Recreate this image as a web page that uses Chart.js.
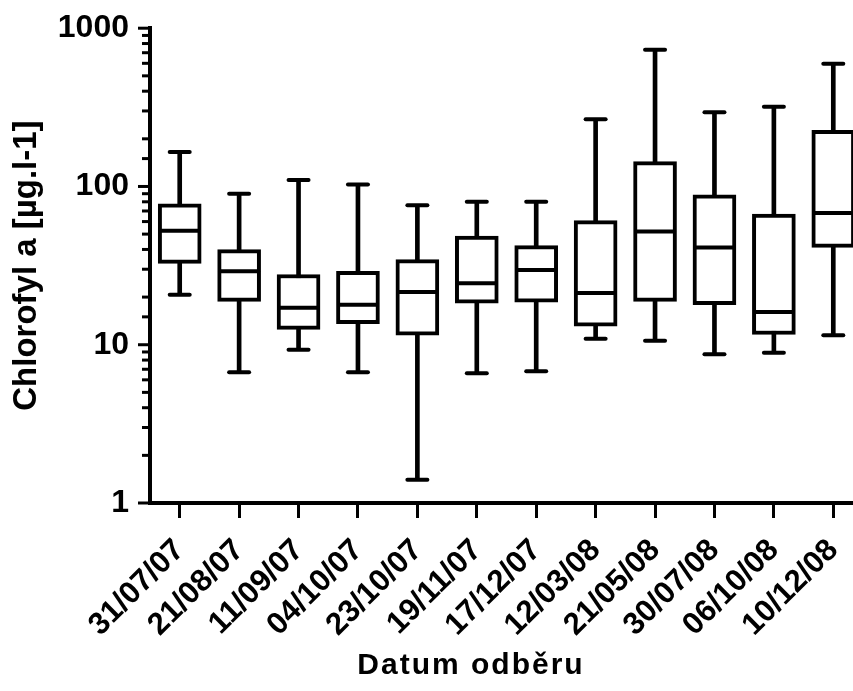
<!DOCTYPE html>
<html>
<head>
<meta charset="utf-8">
<script src="https://cdn.jsdelivr.net/npm/chart.js@4.4.0/dist/chart.umd.min.js"></script>
<style>
  html, body { margin: 0; padding: 0; background: #fff; overflow: hidden; }
  #wrap { width: 940px; height: 691px; }
</style>
</head>
<body>
<div id="wrap"><canvas id="c"></canvas></div>
<script>
// odbery (datum) a statistiky chlorofylu
const dates = ['31/07/07', '21/08/07', '11/09/07', '04/10/07', '23/10/07', '19/11/07',
  '17/12/07', '12/03/08', '21/05/08', '30/07/08', '06/10/08', '10/12/08'];
const minVals = [20.7, 6.7, 9.3, 6.7, 1.4, 6.6, 6.8, 10.9, 10.6, 8.7, 8.9, 11.5];
const q1Vals = [32.7, 18.8, 12.5, 13.6, 11.5, 18.3, 18.6, 13.1, 18.8, 17.9, 11.6, 41.2];
const medianVals = [52.6, 29.1, 17.1, 17.9, 21.5, 24.5, 29.7, 21.2, 52.0, 41.2, 16.1, 67.9];
const q3Vals = [77.8, 39.9, 27.8, 29.1, 34.5, 48.6, 42.3, 60.8, 143.6, 88.6, 66.9, 226];
const maxVals = [165, 90, 110, 103, 76, 80, 80, 266, 730, 294, 319, 596];
const yTickLabels = [1, 10, 100, 1000];
const xTitle = 'Datum odběru';

const FONT = "'Liberation Sans', Arial, sans-serif";
Chart.defaults.font.family = FONT;
Chart.defaults.font.weight = 'bold';
Chart.defaults.color = '#000';

// kratke/dlouhe znacky na log ose, popis osy x
const axisPlugin = {
  id: 'axisLook',
  beforeDatasetsDraw(chart) {
    chart.ctx.lineCap = 'round';
  },
  afterDatasetsDraw(chart) {
    chart.ctx.lineCap = 'butt';
  },
  afterDraw(chart) {
    const y = chart.scales.y;
    const ctx = chart.ctx;
    ctx.save();
    ctx.strokeStyle = '#000';
    ctx.lineWidth = 3;
    y.ticks.forEach(t => {
      const py = y.getPixelForValue(t.value);
      const len = yTickLabels.includes(t.value) ? 12 : 8;
      ctx.beginPath();
      ctx.moveTo(y.right, py);
      ctx.lineTo(y.right - len, py);
      ctx.stroke();
    });
    // titulek osy x (v originale posunuty doleva od stredu osy)
    ctx.font = 'bold 30px ' + FONT;
    ctx.letterSpacing = '2px';
    ctx.fillStyle = '#000';
    ctx.textAlign = 'center';
    ctx.textBaseline = 'middle';
    ctx.fillText(xTitle, 471, 666);
    ctx.restore();
  }
};

const whiskers = dates.map((d, i) => [minVals[i], maxVals[i]]);
const boxes = dates.map((d, i) => [q1Vals[i], q3Vals[i]]);

const capStyle = {
  type: 'line',
  showLine: false,
  pointStyle: 'line',
  pointRadius: 10,
  pointBorderWidth: 4,
  pointBorderColor: '#000',
  order: 0
};

new Chart(document.getElementById('c'), {
  type: 'bar',
  data: {
    labels: dates,
    datasets: [
      {
        data: medianVals,
        type: 'line',
        showLine: false,
        pointStyle: 'line',
        pointRadius: 19,
        pointBorderWidth: 4,
        pointBorderColor: '#000',
        order: 0
      },
      { ...capStyle, data: maxVals },
      { ...capStyle, data: minVals },
      {
        data: boxes,
        backgroundColor: '#fff',
        borderColor: '#000',
        borderWidth: 4,
        borderSkipped: false,
        barThickness: 43,
        grouped: false,
        order: 1
      },
      {
        data: whiskers,
        backgroundColor: '#000',
        borderWidth: 0,
        barThickness: 4,
        grouped: false,
        order: 2
      }
    ]
  },
  options: {
    responsive: true,
    maintainAspectRatio: false,
    animation: false,
    layout: { padding: { top: 27, right: 77, left: 0, bottom: 0 } },
    plugins: {
      legend: { display: false },
      tooltip: { enabled: false },
      title: { display: false }
    },
    scales: {
      x: {
        offset: true,
        grid: {
          display: true,
          offset: false,
          drawOnChartArea: false,
          tickLength: 15,
          tickWidth: 3,
          tickColor: '#000'
        },
        border: { display: true, color: '#000', width: 4 },
        ticks: {
          font: { size: 31, weight: 'bold' },
          maxRotation: 45,
          minRotation: 45,
          autoSkip: false,
          padding: 14
        },
        afterFit(s) { s.height = 188; }
      },
      y: {
        type: 'logarithmic',
        min: 1,
        max: 1000,
        grid: {
          display: true,
          drawOnChartArea: false,
          tickLength: 12,
          tickColor: 'rgba(0,0,0,0)'
        },
        border: { display: true, color: '#000', width: 4 },
        ticks: {
          font: { size: 32, weight: 'bold' },
          autoSkip: false,
          padding: 9,
          callback: v => yTickLabels.includes(v) ? String(v) : ''
        },
        title: {
          display: true,
          text: 'Chlorofyl a [µg.l-1]',
          font: { size: 33, weight: 'bold' },
          padding: { top: 7, bottom: 0 }
        },
        afterFit(s) { s.width = 150; }
      }
    }
  },
  plugins: [axisPlugin]
});
</script>
</body>
</html>
